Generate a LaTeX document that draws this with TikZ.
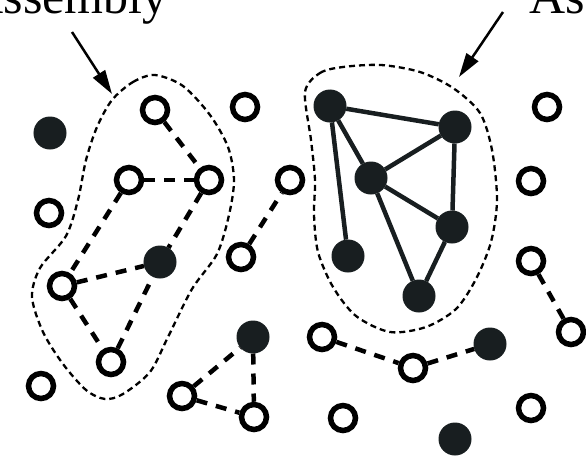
\documentclass[tikz,border=0pt]{standalone}
\usepackage{fontspec}
\setmainfont{Liberation Serif}
\usetikzlibrary{arrows.meta}
\definecolor{nodefill}{RGB}{24,30,32}
\begin{document}
\begin{tikzpicture}[x=1pt,y=-1pt,
  full/.style={circle,fill=nodefill,draw=nodefill,line width=1pt,minimum size=32pt,inner sep=0pt},
  open/.style={circle,draw=black,line width=5.5pt,fill=white,minimum size=25pt,inner sep=0pt},
  bond/.style={line width=4.5pt,draw=nodefill},
  weak/.style={line width=4.5pt,dash pattern=on 11pt off 9pt,draw=black},
  hull/.style={line width=2.3pt,dash pattern=on 6pt off 4pt,draw=black},
  pointer/.style={line width=2.5pt,-{Triangle[length=24pt,width=14pt]}},
  lab/.style={font=\fontsize{50}{60}\selectfont,inner sep=0pt}]
\useasboundingbox (0,0) rectangle (586,458);
\clip (0,0) rectangle (586,458);

% hulls
\draw[hull] plot[smooth cycle] coordinates {(112,100) (133,82) (155,75) (183,86) (210,115) (228,147) (234,180) (229,215) (217,254) (192,289) (168,337) (150,372) (123,394) (105,399) (86,390) (63,364) (43,332) (32,297) (40,268) (66,236) (78,200) (86,160) (97,127)};
\draw[hull] plot[smooth cycle] coordinates {(305,92) (320,73) (343,67) (381,65) (420,72) (453,88) (480,113) (492,150) (497,200) (491,242) (476,279) (456,309) (426,327) (390,332) (356,316) (333,287) (318,252) (314,215) (315,180) (311,140)};

% labels and pointers
\node[lab,anchor=base east] (lab1) at (168,13) {Assembly};
\node[lab,anchor=base west] (lab2) at (529,13) {Assembly};
\coordinate (t1) at (72,32); \coordinate (h1) at (112,94);
\coordinate (t2) at (503,12); \coordinate (h2) at (459,77);
\draw[pointer] (t1) -- (h1);
\draw[pointer] (t2) -- (h2);

% filled nodes
\node[full] (F1) at (50,133) {};
\node[full] (F2) at (330,106) {};
\node[full] (F3) at (455,127) {};
\node[full] (F4) at (371,178) {};
\node[full] (F5) at (452,227) {};
\node[full] (F6) at (348,256) {};
\node[full] (F7) at (419,296) {};
\node[full] (F8) at (160,262) {};
\node[full] (F9) at (253,337) {};
\node[full] (F10) at (490,344) {};
\node[full] (F11) at (455,439) {};

% open nodes
\node[open] (O1) at (155,110) {};
\node[open] (O2) at (245,107) {};
\node[open] (O3) at (129,180) {};
\node[open] (O4) at (209,180) {};
\node[open] (O5) at (290,180) {};
\node[open] (O6) at (49,213) {};
\node[open] (O7) at (241,257) {};
\node[open] (O8) at (62,286) {};
\node[open] (O9) at (111,362) {};
\node[open] (O10) at (41,386) {};
\node[open] (O11) at (182,396) {};
\node[open] (O12) at (254,417) {};
\node[open] (O13) at (322,337) {};
\node[open] (O14) at (413,368) {};
\node[open] (O15) at (343,418) {};
\node[open] (O16) at (531,408) {};
\node[open] (O17) at (547,107) {};
\node[open] (O18) at (531,181) {};
\node[open] (O19) at (531,261) {};
\node[open] (O20) at (571,332) {};

% strong bonds
\draw[bond] (F2) -- (F3);
\draw[bond] (F2) -- (F4);
\draw[bond] (F2) -- (F6);
\draw[bond] (F4) -- (F3);
\draw[bond] (F4) -- (F5);
\draw[bond] (F4) -- (F7);
\draw[bond] (F3) -- (F5);
\draw[bond] (F5) -- (F7);

% weak bonds
\draw[weak] (O1) -- (O4);
\draw[weak] (O3) -- (O4);
\draw[weak] (O3) -- (O8);
\draw[weak] (O4) -- (F8);
\draw[weak] (O8) -- (F8);
\draw[weak] (O8) -- (O9);
\draw[weak] (O9) -- (F8);
\draw[weak] (O7) -- (O5);
\draw[weak] (O11) -- (F9);
\draw[weak] (F9) -- (O12);
\draw[weak] (O11) -- (O12);
\draw[weak] (O13) -- (O14);
\draw[weak] (O14) -- (F10);
\draw[weak] (O19) -- (O20);
\end{tikzpicture}
\end{document}
